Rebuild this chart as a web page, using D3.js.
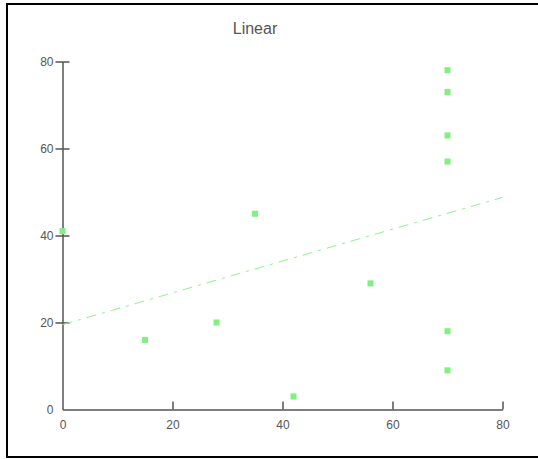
<!DOCTYPE html>
<html>
<head>
<meta charset="utf-8">
<script src="https://cdn.jsdelivr.net/npm/d3@7"></script>
<style>
  html, body { margin: 0; padding: 0; background: #fff; }
  svg { display: block; }
  text { font-family: "Liberation Sans", Arial, sans-serif; }
</style>
</head>
<body>
<svg id="chart" width="538" height="459"></svg>
<script>
const title = "Linear";
const xValues = [0, 15, 28, 35, 42, 56, 70, 70, 70, 70, 70, 70];
const yValues = [41, 16, 20, 45, 3, 29, 78, 73, 63, 57, 18, 9];
const xTicks = [0, 20, 40, 60, 80];
const yTicks = [0, 20, 40, 60, 80];

const svg = d3.select("#chart");

// outer frame
svg.append("rect")
  .attr("x", 7).attr("y", 4)
  .attr("width", 560).attr("height", 453)
  .attr("fill", "none").attr("stroke", "#000").attr("stroke-width", 2);

const x = d3.scaleLinear().domain([0, 80]).range([62.5, 502.5]);
const y = d3.scaleLinear().domain([0, 80]).range([409.5, 61.5]);

const axisColor = "#555";

svg.append("text")
  .attr("x", 255).attr("y", 34)
  .attr("text-anchor", "middle")
  .attr("font-size", 16)
  .attr("fill", "#555")
  .text(title);

// x axis
const xAxis = svg.append("g")
  .attr("transform", `translate(0,${y(0)})`)
  .call(d3.axisBottom(x).tickValues(xTicks).tickSize(0).tickPadding(11).tickFormat(d3.format("d")));
xAxis.select(".domain").attr("stroke", axisColor).attr("stroke-width", 1.5);
xAxis.selectAll(".tick line").remove();
xAxis.selectAll(".tick").append("line")
  .attr("y1", 0).attr("y2", -8)
  .attr("stroke", axisColor).attr("stroke-width", 1.5)
  .filter(d => d === 0).remove();
xAxis.selectAll("text").attr("font-size", 12).attr("fill", "#555").attr("font-family", "Liberation Sans, Arial, sans-serif");

// y axis
const yAxis = svg.append("g")
  .attr("transform", `translate(${x(0)},0)`)
  .call(d3.axisLeft(y).tickValues(yTicks).tickSize(0).tickPadding(9).tickFormat(d3.format("d")));
yAxis.select(".domain").attr("stroke", axisColor).attr("stroke-width", 1.5);
yAxis.selectAll(".tick line").remove();
yAxis.selectAll(".tick").append("line")
  .attr("x1", -7).attr("x2", 7)
  .attr("stroke", axisColor).attr("stroke-width", 1.5)
  .filter(d => d === 0).remove();
yAxis.selectAll("text").attr("font-size", 12).attr("fill", "#555").attr("font-family", "Liberation Sans, Arial, sans-serif");

// linear regression from data
const n = xValues.length;
const mx = d3.mean(xValues), my = d3.mean(yValues);
let sxy = 0, sxx = 0;
for (let i = 0; i < n; i++) { sxy += (xValues[i]-mx)*(yValues[i]-my); sxx += (xValues[i]-mx)**2; }
const slope = sxy / sxx, intercept = my - slope * mx;
const fit = [0, 80].map(v => [v, intercept + slope * v]);

svg.append("path")
  .datum(fit)
  .attr("d", d3.line().x(d => x(d[0])).y(d => y(d[1])))
  .attr("fill", "none")
  .attr("stroke", "#8ef28e")
  .attr("stroke-width", 1)
  .attr("stroke-dasharray", "10,6,3,6");

// points
const pts = xValues.map((v, i) => ({x: v, y: yValues[i]}));
svg.append("g").selectAll("rect")
  .data(pts).join("rect")
  .attr("x", d => x(d.x) - 3)
  .attr("y", d => y(d.y) - 3)
  .attr("width", 6).attr("height", 6)
  .attr("fill", "#80f080");
</script>
</body>
</html>
